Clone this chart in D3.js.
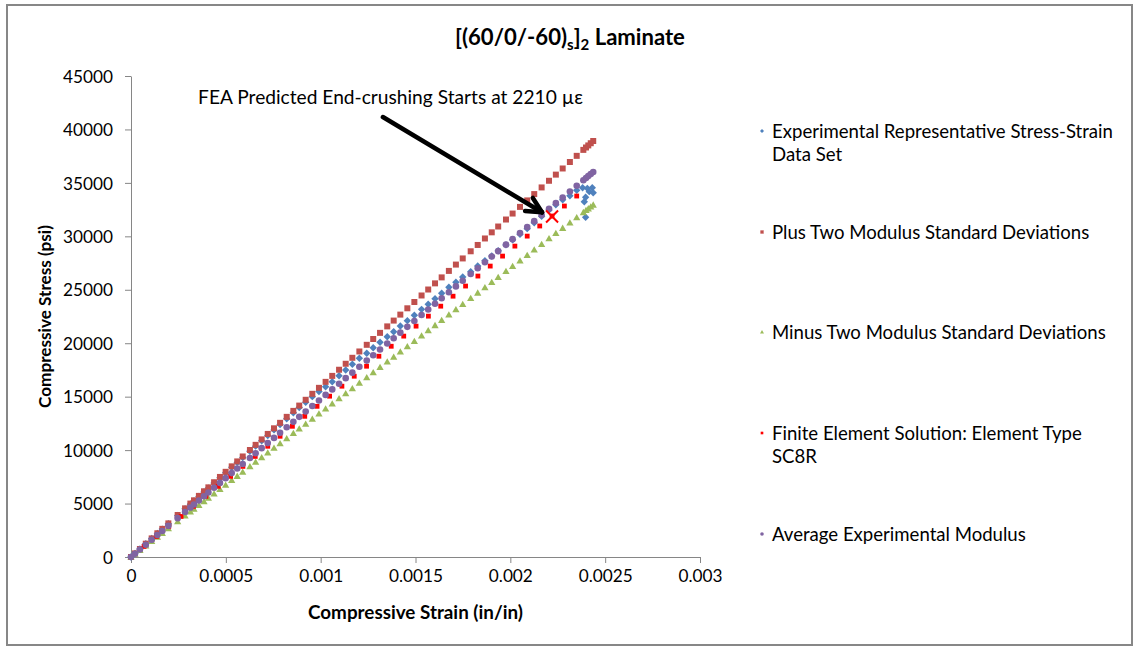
<!DOCTYPE html>
<html>
<head>
<meta charset="utf-8">
<script src="https://cdn.jsdelivr.net/npm/d3@7"></script>
<style>
  body { margin: 0; background: #fff; }
  svg { display: block; font-family: Lato, "Open Sans", sans-serif; }
  .axis path, .axis line { stroke: #868686; }
  .axis text { fill: #000; font-family: Lato, sans-serif; }
</style>
</head>
<body>
<div id="chart"></div>
<script>
// strain values shared by the modulus lines (in/in)
const modStrain = [0, 0.000021, 0.000047, 0.000078, 0.000109, 0.000139, 0.000165, 0.000197, 0.000246, 0.000285,
  0.000313, 0.000332, 0.000358, 0.000385, 0.000408, 0.000438, 0.000469, 0.000499, 0.000531, 0.000560,
  0.000589, 0.000627, 0.000657, 0.000689, 0.000721, 0.000754, 0.000786, 0.000821, 0.000856, 0.000887,
  0.000921, 0.000956, 0.000991, 0.001026, 0.001061, 0.001097, 0.001132, 0.001167, 0.001204, 0.001243,
  0.001277, 0.001313, 0.001351, 0.001385, 0.001420, 0.001457, 0.001494, 0.001532, 0.001567, 0.001603,
  0.001638, 0.001676, 0.001713, 0.001749, 0.001791, 0.001828, 0.001866, 0.001902, 0.001936, 0.001977,
  0.002012, 0.002051, 0.002089, 0.002126, 0.002165, 0.002204, 0.002240, 0.002276, 0.002314, 0.002350,
  0.002385, 0.002399, 0.002411, 0.002424, 0.002437];

const plusStress = [0, 335, 751, 1246, 1741, 2220, 2635, 3146, 3929, 4551,
  4999, 5302, 5717, 6148, 6516, 6995, 7490, 7969, 8480, 8943,
  9406, 10013, 10492, 11003, 11514, 12041, 12552, 13111, 13670, 14165,
  14708, 15267, 15826, 16385, 16944, 17519, 18078, 18637, 19228, 19851,
  20394, 20969, 21575, 22118, 22677, 23268, 23859, 24466, 25025, 25600,
  26159, 26766, 27357, 27932, 28602, 29193, 29800, 30375, 30918, 31573,
  32132, 32754, 33361, 33952, 34575, 35198, 35773, 36348, 36955, 37530,
  38088, 38312, 38504, 38711, 38919];

const minusStress = [0, 284, 635, 1055, 1474, 1879, 2231, 2663, 3326, 3853,
  4232, 4489, 4840, 5205, 5516, 5922, 6341, 6746, 7179, 7571,
  7963, 8477, 8883, 9315, 9748, 10194, 10627, 11100, 11573, 11992,
  12452, 12925, 13398, 13872, 14345, 14831, 15305, 15778, 16278, 16805,
  17265, 17752, 18266, 18725, 19198, 19699, 20199, 20713, 21186, 21673,
  22146, 22660, 23160, 23646, 24214, 24715, 25228, 25715, 26175, 26729,
  27202, 27730, 28243, 28744, 29271, 29798, 30285, 30772, 31285, 31772,
  32245, 32434, 32597, 32772, 32948];

const avgStress = [0, 310, 695, 1153, 1611, 2054, 2439, 2912, 3636, 4212,
  4626, 4907, 5291, 5690, 6030, 6474, 6932, 7375, 7848, 8277,
  8705, 9267, 9710, 10183, 10656, 11144, 11617, 12134, 12652, 13110,
  13612, 14130, 14647, 15164, 15682, 16214, 16731, 17248, 17795, 18372,
  18874, 19406, 19968, 20470, 20988, 21534, 22081, 22643, 23160, 23692,
  24210, 24771, 25318, 25850, 26471, 27018, 27579, 28112, 28614, 29220,
  29737, 30314, 30875, 31422, 31999, 32575, 33107, 33639, 34201, 34733,
  35250, 35457, 35635, 35827, 36019];

// experimental data set: same strains up to 0.00235, then the scatter at failure
const expStrain = modStrain.slice(0, 70).concat([0.002381, 0.002406, 0.002432, 0.002416, 0.002437, 0.002397, 0.002390, 0.002397]);
const expStress = [0, 335, 745, 1235, 1725, 2200, 2610, 3115, 3890, 4505,
  4945, 5245, 5655, 6080, 6445, 6915, 7405, 7880, 8385, 8840,
  9300, 9900, 10370, 10870, 11370, 11890, 12390, 12940, 13490, 13980,
  14470, 15000, 15480, 15930, 16400, 16960, 17490, 18030, 18590, 19060,
  19580, 20090, 20610, 21080, 21610, 22110, 22610, 23170, 23640, 24160,
  24670, 25230, 25700, 26190, 26690, 27220, 27720, 28160, 28650, 29200,
  29680, 30200, 30720, 31260, 31870, 32460, 32950, 33420, 33800, 34300,
  34550, 34490, 34550, 34180, 34080, 33650, 33240, 31780];

const feStrain = [0, 0.000069, 0.000134, 0.000199, 0.000264, 0.000330, 0.000395, 0.000460, 0.000525, 0.000590,
  0.000655, 0.000721, 0.000786, 0.000851, 0.000916, 0.000981, 0.001047, 0.001112, 0.001177, 0.001242,
  0.001307, 0.001372, 0.001438, 0.001503, 0.001568, 0.001633, 0.001698, 0.001764, 0.001829, 0.001894,
  0.001959, 0.002024, 0.002089, 0.002155, 0.002220, 0.002285, 0.002350];
const feStress = [0, 992, 1926, 2860, 3794, 4742, 5676, 6610, 7544, 8478,
  9412, 10361, 11295, 12229, 13163, 14097, 15045, 15979, 16913, 17848,
  18782, 19716, 20664, 21598, 22532, 23466, 24400, 25349, 26283, 27217,
  28151, 29085, 30019, 30967, 31901, 32835, 33770];

const crushStrain = [0.00222];
const crushStress = [31850];

const xTicks = [0, 0.0005, 0.001, 0.0015, 0.002, 0.0025, 0.003];
const xTickLabels = ["0", "0.0005", "0.001", "0.0015", "0.002", "0.0025", "0.003"];
const yTicks = [0, 5000, 10000, 15000, 20000, 25000, 30000, 35000, 40000, 45000];

const seriesNames = [
  ["Experimental Representative Stress-Strain", "Data Set"],
  ["Plus Two Modulus Standard Deviations"],
  ["Minus Two Modulus Standard Deviations"],
  ["Finite Element Solution: Element Type", "SC8R"],
  ["Average Experimental Modulus"],
];

const width = 1135, height = 648;
const plot = { left: 131, right: 700, top: 76, bottom: 557 };

// scale a text's font so that it spans the wanted width
function fitFont(sel, target) {
  const node = sel.node();
  const size = parseFloat(sel.style("font-size"));
  const w = node.getComputedTextLength();
  const s = (size * target) / w;
  sel.style("font-size", s + "px");
  return s;
}

const svg = d3.select("#chart").append("svg")
  .attr("width", width)
  .attr("height", height);

svg.append("rect")
  .attr("x", 7).attr("y", 5)
  .attr("width", 1125).attr("height", 640)
  .attr("fill", "#fff")
  .attr("stroke", "#878787")
  .attr("stroke-width", 2);

const x = d3.scaleLinear().domain([0, 0.003]).range([plot.left, plot.right]);
const y = d3.scaleLinear().domain([0, 45000]).range([plot.bottom, plot.top]);

const yAxis = svg.append("g")
  .attr("class", "axis")
  .attr("transform", `translate(${plot.left},0)`)
  .call(d3.axisLeft(y).tickValues(yTicks).tickSize(6).tickSizeOuter(0)
    .tickFormat(d3.format("d")));
yAxis.selectAll("text").style("font-size", "17px").attr("x", -18).attr("dy", "0.36em");
const tickSize = fitFont(yAxis.selectAll("text").filter((d) => d === 45000), 50);
yAxis.selectAll("text").style("font-size", tickSize + "px");

const xAxis = svg.append("g")
  .attr("class", "axis")
  .attr("transform", `translate(0,${plot.bottom})`)
  .call(d3.axisBottom(x).tickValues(xTicks).tickSize(6).tickSizeOuter(0)
    .tickFormat((d, i) => xTickLabels[i]));
xAxis.selectAll("text").style("font-size", tickSize + "px").attr("y", 9).attr("dy", "0.95em");

// title
const title = svg.append("text")
  .attr("x", 570).attr("y", 45)
  .attr("text-anchor", "middle")
  .style("font-size", "19px")
  .style("font-weight", "bold");
title.append("tspan").text("[(60/0/-60)");
title.append("tspan").attr("dy", 5).attr("class", "sub").text("s");
title.append("tspan").attr("dy", -5).text("]");
title.append("tspan").attr("dy", 5).attr("class", "sub").text("2");
title.append("tspan").attr("dy", -5).text(" Laminate");
title.selectAll(".sub").style("font-size", "0.68em");
fitFont(title, 230);

fitFont(svg.append("text")
  .attr("x", (plot.left + plot.right) / 2).attr("y", 619)
  .attr("text-anchor", "middle")
  .style("font-size", "16px").style("font-weight", "bold")
  .text("Compressive Strain (in/in)"), 215);

fitFont(svg.append("text")
  .attr("transform", `translate(51,${(plot.top + plot.bottom) / 2}) rotate(-90)`)
  .attr("text-anchor", "middle")
  .style("font-size", "16px").style("font-weight", "bold")
  .text("Compressive Stress (psi)"), 183);

// markers
const shapes = {
  diamond: (s) => `M0,${-s}L${s},0L0,${s}L${-s},0Z`,
  square: (s) => `M${-s},${-s}H${s}V${s}H${-s}Z`,
  triangle: (s) => `M0,${-s * 1.05}L${s * 1.1},${s * 0.85}L${-s * 1.1},${s * 0.85}Z`,
  circle: (s) => d3.symbol(d3.symbolCircle, Math.PI * s * s)(),
};

const series = [
  { xs: expStrain, ys: expStress, shape: "diamond", size: 3.7, color: "#4F81BD" },
  { xs: modStrain, ys: plusStress, shape: "square", size: 3.0, color: "#C0504D" },
  { xs: modStrain, ys: minusStress, shape: "triangle", size: 3.3, color: "#9BBB59" },
  { xs: feStrain, ys: feStress, shape: "square", size: 2.4, color: "#FF0000" },
  { xs: modStrain, ys: avgStress, shape: "circle", size: 3.3, color: "#8064A2" },
];

const marks = svg.append("g");
series.forEach((s) => {
  marks.append("g")
    .selectAll("path")
    .data(s.xs.map((v, i) => [v, s.ys[i]]))
    .join("path")
    .attr("transform", (d) => `translate(${x(d[0])},${y(d[1])})`)
    .attr("d", shapes[s.shape](s.size))
    .attr("fill", s.color);
});

// crushing point
marks.selectAll(".crush")
  .data(crushStrain.map((v, i) => [v, crushStress[i]]))
  .join("path")
  .attr("class", "crush")
  .attr("transform", (d) => `translate(${x(d[0])},${y(d[1])})`)
  .attr("d", "M-6,-6L6,6M-6,6L6,-6")
  .attr("stroke", "#FF0000")
  .attr("stroke-width", 2)
  .attr("fill", "none");

// annotation
const tail = [x(0.001328), y(41160)], tip = [x(0.002167), y(32250)];
const ang = Math.atan2(tail[1] - tip[1], tail[0] - tip[0]);
const ann = svg.append("g").attr("stroke", "#000").attr("stroke-width", 4.5)
  .attr("stroke-linecap", "round").attr("fill", "none");
ann.append("line")
  .attr("x1", tail[0]).attr("y1", tail[1])
  .attr("x2", tip[0]).attr("y2", tip[1]);
[-0.46, 0.46].forEach((a) => {
  ann.append("line")
    .attr("x1", tip[0]).attr("y1", tip[1])
    .attr("x2", tip[0] + 17 * Math.cos(ang + a))
    .attr("y2", tip[1] + 17 * Math.sin(ang + a));
});

fitFont(svg.append("text")
  .attr("x", x(0.001368)).attr("y", 104)
  .attr("text-anchor", "middle")
  .style("font-size", "18px")
  .text("FEA Predicted End-crushing Starts at 2210 µε"), 385);

// legend
const legendY = [131, 232, 332, 433, 534];
const legend = svg.append("g").style("font-size", "17.5px");
series.forEach((s, i) => {
  const g = legend.append("g").attr("transform", `translate(762,${legendY[i]})`);
  g.append("path").attr("d", shapes[s.shape](s.size * 0.55)).attr("fill", s.color);
  g.append("text")
    .attr("x", 10).attr("y", 7)
    .selectAll("tspan")
    .data(seriesNames[i])
    .join("tspan")
    .attr("x", 10)
    .attr("dy", (d, j) => (j ? 23 : 0))
    .text((d) => d);
});
const firstLine = legend.select("tspan");
const lw = firstLine.node().getComputedTextLength();
legend.style("font-size", (17.5 * 341) / lw + "px");
</script>
</body>
</html>
